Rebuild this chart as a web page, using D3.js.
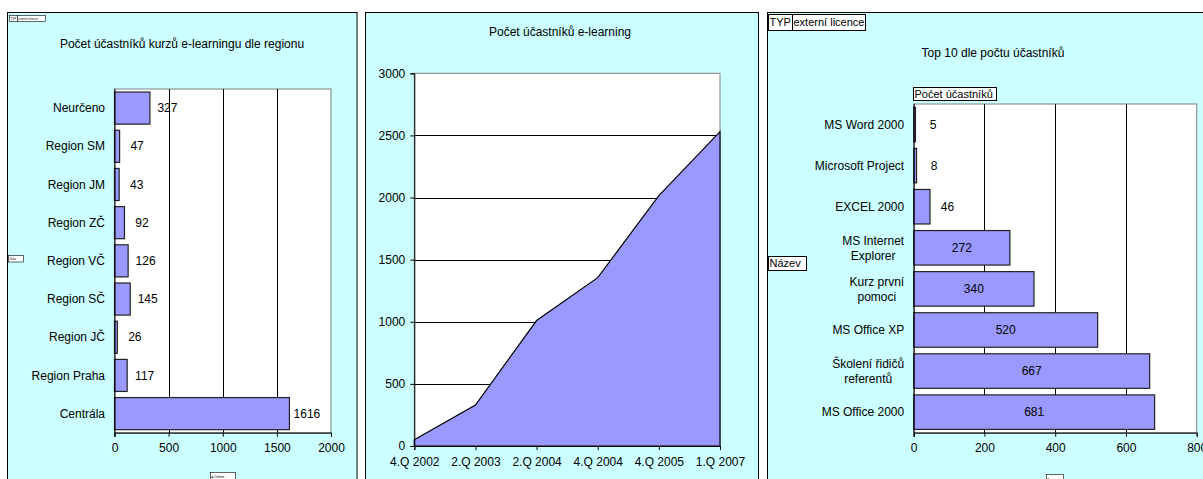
<!DOCTYPE html>
<html>
<head>
<meta charset="utf-8">
<script src="https://cdn.jsdelivr.net/npm/d3@7"></script>
<style>
  body { margin: 0; background: #fff; }
  svg text { font-family: "Liberation Sans", Arial, sans-serif; fill: #000; }
</style>
</head>
<body>
<svg id="chart" width="1203" height="479"></svg>
<script>
// --- Participants by region ---
const regionNames = ["Neurčeno", "Region SM", "Region JM", "Region  ZČ", "Region VČ", "Region SČ", "Region JČ", "Region Praha", "Centrála"];
const regionCounts = [327, 47, 43, 92, 126, 145, 26, 117, 1616];
const regionTicks = [0, 500, 1000, 1500, 2000];

// --- Cumulative participants over time ---
const quarterLabels = ["4.Q 2002", "2.Q 2003", "2.Q 2004", "4.Q 2004", "4.Q 2005", "1.Q 2007"];
const quarterTotals = [50, 330, 1010, 1355, 2015, 2530];
const totalTicks = [0, 500, 1000, 1500, 2000, 2500, 3000];

// --- Top courses ---
const courseNames = ["MS Word 2000", "Microsoft Project", "EXCEL 2000", "MS Internet Explorer", "Kurz první pomoci", "MS Office XP", "Školení řidičů referentů", "MS Office 2000"];
const courseCounts = [5, 8, 46, 272, 340, 520, 667, 681];
const courseTicks = [0, 200, 400, 600, 800];

const BG = "#CCFFFF", BAR = "#9999FF", FRAME = "#808080";
const svg = d3.select("#chart");

// panel backgrounds with black frames
function panel(x, w) {
  svg.append("rect").attr("x", x + 0.5).attr("y", 12.5).attr("width", w).attr("height", 500)
    .attr("fill", BG).attr("stroke", "#000").attr("stroke-width", 1);
}
panel(7, 349.5);
panel(365, 393);
panel(767, 500);

// pivot field buttons
function button(x, y, w, h, parts, size) {
  const g = svg.append("g");
  let cx = x;
  parts.forEach(p => {
    g.append("rect").attr("x", cx + 0.5).attr("y", y + 0.5).attr("width", p.w).attr("height", h)
      .attr("fill", "#fff").attr("stroke", "#000").attr("stroke-width", size < 6 ? 0.6 : 1);
    g.append("text").attr("x", cx + 1.5).attr("y", y + h / 2 + 0.5).attr("dy", "0.35em")
      .attr("font-size", size).text(p.t);
    cx += p.w;
  });
}
function title(x, y, t) {
  svg.append("text").attr("x", x).attr("y", y).attr("text-anchor", "middle")
    .attr("dy", "0.35em").attr("font-size", 12).text(t);
}

// wrap a label into lines no wider than maxW
function wrapLines(sel, text, maxW) {
  const words = text.split(" ");
  const lines = [];
  let cur = "";
  const probe = sel.append("text").attr("font-size", 12).attr("visibility", "hidden");
  words.forEach(w => {
    const test = cur ? cur + " " + w : w;
    probe.text(test);
    if (probe.node().getComputedTextLength() > maxW && cur) { lines.push(cur); cur = w; }
    else cur = test;
  });
  lines.push(cur);
  probe.remove();
  return lines;
}

function hbar(opts) {
  const { names, values, ticks, left, right, top, bottom, labelMode } = opts;
  const g = svg.append("g");
  const x = d3.scaleLinear().domain([ticks[0], ticks[ticks.length - 1]]).range([left, right]);
  const y = d3.scaleBand().domain(names).range([top, bottom]).paddingInner(0.16).paddingOuter(0.08);

  g.append("rect").attr("x", left).attr("y", top).attr("width", right - left).attr("height", bottom - top)
    .attr("fill", "#fff").attr("stroke", FRAME).attr("stroke-width", 1);

  // vertical gridlines
  g.selectAll("line.grid").data(ticks.slice(1, -1)).join("line")
    .attr("x1", d => Math.round(x(d)) + 0.5).attr("x2", d => Math.round(x(d)) + 0.5)
    .attr("y1", top).attr("y2", bottom).attr("stroke", "#000");

  // bars
  g.selectAll("rect.bar").data(values).join("rect")
    .attr("x", left).attr("y", (d, i) => y(names[i]))
    .attr("width", d => x(d) - left).attr("height", y.bandwidth())
    .attr("fill", BAR).attr("stroke", "#222").attr("stroke-width", 1.2);

  // value labels
  values.forEach((v, i) => {
    const t = g.append("text").attr("font-size", 12).attr("text-anchor", "middle")
      .attr("y", y(names[i]) + y.bandwidth() / 2).attr("dy", "0.35em").text(v);
    const tw = t.node().getComputedTextLength();
    const barW = x(v) - left;
    if (labelMode === "center" && barW > tw + 10) t.attr("x", left + barW / 2);
    else t.attr("x", x(v) + 17.5);
  });

  // x axis
  const ax = g.append("g").attr("transform", `translate(0,${bottom})`)
    .call(d3.axisBottom(x).tickValues(ticks).tickSize(4).tickPadding(7).tickFormat(d3.format("d")));
  ax.select(".domain").attr("stroke", "#000");
  ax.selectAll("line").attr("stroke", "#000");
  ax.selectAll("text").attr("font-size", 12).attr("font-family", null).attr("fill", "#000");
  // y axis line
  g.append("line").attr("x1", left + 0.5).attr("x2", left + 0.5).attr("y1", top).attr("y2", bottom + 4).attr("stroke", "#000");

  // category labels
  names.forEach(n => {
    const lines = wrapLines(g, n, 92);
    const probe = g.append("text").attr("font-size", 12).attr("visibility", "hidden");
    const widths = lines.map(l => { probe.text(l); return probe.node().getComputedTextLength(); });
    probe.remove();
    const bw = d3.max(widths);
    const cx = left - 9.5 - bw / 2;
    const cy = y(n) + y.bandwidth() / 2;
    const lh = 15;
    lines.forEach((l, k) => {
      g.append("text").attr("font-size", 12).attr("text-anchor", "middle")
        .attr("x", cx).attr("y", cy + (k - (lines.length - 1) / 2) * lh).attr("dy", "0.35em").text(l);
    });
  });
}

// ---------- Panel 1 ----------
button(9, 15, 36, 6, [{ t: "TYP", w: 8 }, { t: "externí licence", w: 28 }], 3);
button(8, 255, 15, 6.5, [{ t: "Data", w: 15 }], 3);
button(210, 472, 25, 8, [{ t: "■ Celkem", w: 25 }], 3);
title(182, 44, "Počet účastníků kurzů e-learningu dle regionu");
hbar({ names: regionNames, values: regionCounts, ticks: regionTicks,
  left: 114.5, right: 331, top: 89, bottom: 432.7, labelMode: "outside" });

// ---------- Panel 2 ----------
title(560, 32, "Počet účastníků e-learning");
(function () {
  const left = 414.3, right = 720, top = 73.3, bottom = 446;
  const g = svg.append("g");
  const x = d3.scalePoint().domain(quarterLabels).range([left, right]).padding(0);
  const y = d3.scaleLinear().domain([0, 3000]).range([bottom, top]);
  g.append("rect").attr("x", left).attr("y", top).attr("width", right - left).attr("height", bottom - top)
    .attr("fill", "#fff").attr("stroke", FRAME);
  g.selectAll("line.grid").data(totalTicks.slice(1, -1)).join("line")
    .attr("x1", left).attr("x2", right)
    .attr("y1", d => Math.round(y(d)) + 0.5).attr("y2", d => Math.round(y(d)) + 0.5).attr("stroke", "#000");
  const pts = quarterLabels.map((q, i) => [x(q), quarterTotals[i]]);
  const area = d3.area().x(d => d[0]).y0(y(0)).y1(d => y(d[1]));
  g.append("path").datum(pts).attr("d", area).attr("fill", BAR).attr("stroke", "#000").attr("stroke-width", 1.2);

  const ay = g.append("g").attr("transform", `translate(${left},0)`)
    .call(d3.axisLeft(y).tickValues(totalTicks).tickSize(4).tickPadding(5).tickFormat(d3.format("d")));
  ay.selectAll("line").attr("stroke", "#000");
  ay.select(".domain").attr("stroke", "#000");
  ay.selectAll("text").attr("font-size", 12).attr("font-family", null).attr("fill", "#000");
  const ax = g.append("g").attr("transform", `translate(0,${bottom})`)
    .call(d3.axisBottom(x).tickSize(4).tickPadding(7));
  ax.selectAll("line").attr("stroke", "#000");
  ax.select(".domain").attr("stroke", "#000");
  ax.selectAll("text").attr("font-size", 12).attr("font-family", null).attr("fill", "#000");
})();

// ---------- Panel 3 ----------
button(768, 14, 97, 16, [{ t: "TYP", w: 24 }, { t: "externí licence", w: 73 }], 11);
button(913, 87, 83, 13, [{ t: "Počet účastníků", w: 83 }], 11);
button(768, 256, 38, 14, [{ t: "Název", w: 38 }], 11);
button(1046, 474, 17, 8, [{ t: "■ ...", w: 17 }], 3);
title(993, 53, "Top 10 dle počtu účastníků");
hbar({ names: courseNames, values: courseCounts, ticks: courseTicks,
  left: 913.7, right: 1196.7, top: 104, bottom: 432.7, labelMode: "center" });
</script>
</body>
</html>
